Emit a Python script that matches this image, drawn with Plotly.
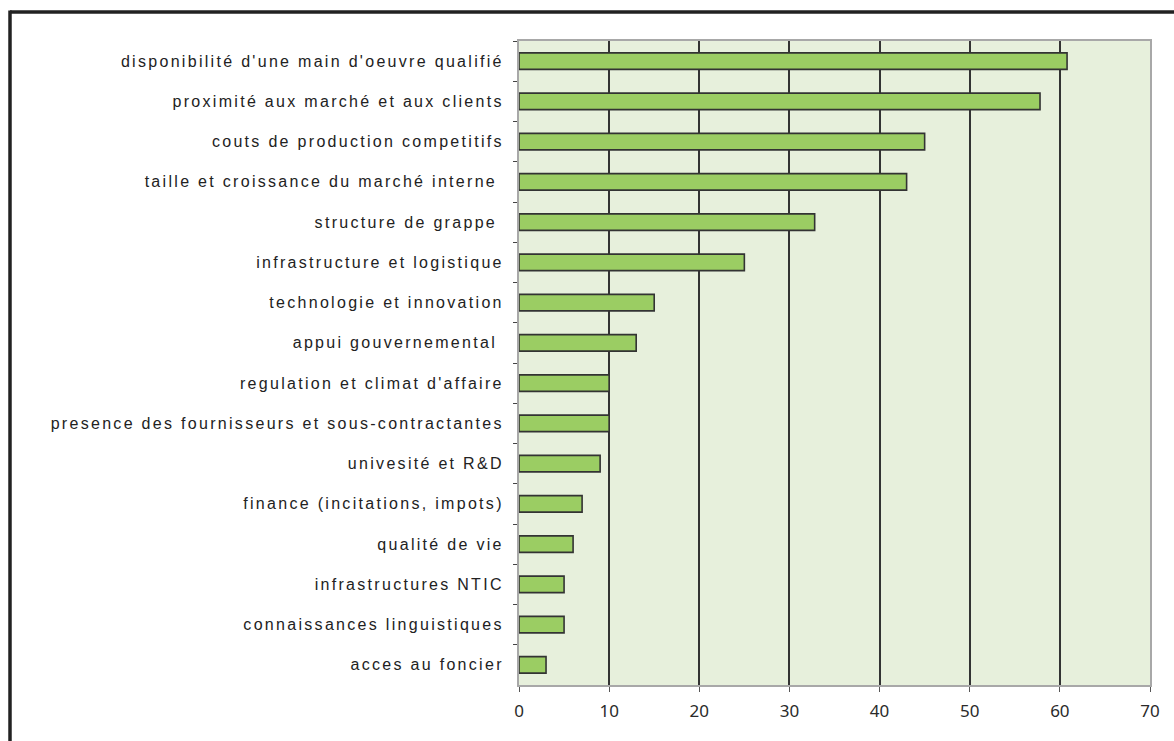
import plotly.graph_objects as go

# Facteurs d'attractivité (pourcentage de réponses)
categories = [
    "disponibilité d'une main d'oeuvre qualifié",
    "proximité aux marché et aux clients",
    "couts de production competitifs",
    "taille et croissance du marché interne ",
    "structure de grappe ",
    "infrastructure et logistique",
    "technologie et innovation",
    "appui gouvernemental ",
    "regulation et climat d'affaire",
    "presence des fournisseurs et sous-contractantes",
    "univesité et R&D",
    "finance (incitations, impots)",
    "qualité de vie",
    "infrastructures NTIC",
    "connaissances linguistiques",
    "acces au foncier",
]
values = [60.8, 57.8, 45, 43, 32.8, 25, 15, 13, 10, 10, 9, 7, 6, 5, 5, 3]
x_ticks = [0, 10, 20, 30, 40, 50, 60, 70]

W, H = 1174, 741
L, R, T, B = 519, 24, 41, 56
plot_w = W - L - R
plot_h = H - T - B

fig = go.Figure(
    go.Bar(
        x=values,
        y=categories,
        orientation="h",
        width=0.41,
        marker=dict(color="#9bcd63", line=dict(color="#333333", width=1.6)),
        hoverinfo="x+y",
    )
)

# outer frame (left and top edges visible)
def px_to_paper_x(px):
    return (px - L) / plot_w

def px_to_paper_y(py):
    return (H - B - py) / plot_h

fig.add_shape(type="line", xref="paper", yref="paper",
              x0=px_to_paper_x(10), x1=px_to_paper_x(1180),
              y0=px_to_paper_y(12), y1=px_to_paper_y(12),
              line=dict(color="#222222", width=3.5))
fig.add_shape(type="line", xref="paper", yref="paper",
              x0=px_to_paper_x(10), x1=px_to_paper_x(10),
              y0=px_to_paper_y(10.5), y1=px_to_paper_y(750),
              line=dict(color="#222222", width=3.5))

fig.update_layout(
    width=W,
    height=H,
    margin=dict(l=L, r=R, t=T, b=B),
    paper_bgcolor="white",
    plot_bgcolor="#e7f0dc",
    showlegend=False,
    bargap=0.59,
)

fig.update_xaxes(
    range=[0, 70],
    tickvals=x_ticks,
    ticktext=[str(v) for v in x_ticks],
    showgrid=True,
    gridcolor="#333333",
    gridwidth=1.6,
    zeroline=False,
    showline=True,
    linecolor="#a8a8a8",
    linewidth=2,
    mirror=True,
    ticks="outside",
    ticklen=5,
    tickcolor="#555555",
    tickfont=dict(family="Noto Sans", size=17, color="#2a2a2a"),
    ticklabelstandoff=5,
    fixedrange=True,
)

fig.update_yaxes(
    autorange="reversed",
    showgrid=False,
    zeroline=False,
    showline=True,
    linecolor="#a8a8a8",
    linewidth=2,
    mirror=True,
    ticks="outside",
    tickson="boundaries",
    ticklen=4,
    tickcolor="#444444",
    tickfont=dict(family="Liberation Sans", size=16, color="#222222"),
    ticklabelstandoff=10,
    fixedrange=True,
)

# widen the category labels with letter spacing
spacing_js = """
var gd = document.getElementById('{plot_id}');
gd.querySelectorAll('.ytick text').forEach(function(t) {
    t.style.letterSpacing = '2.3px';
});
"""

fig.write_html("out.html", post_script=spacing_js)
